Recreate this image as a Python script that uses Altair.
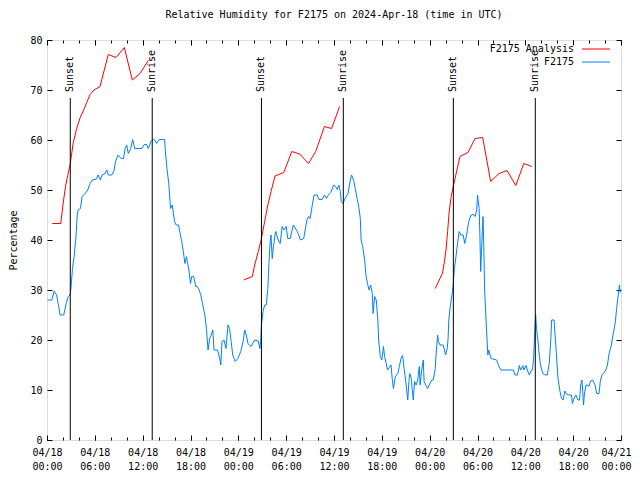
import altair as alt
import pandas as pd

# ---------------- data (hours since 2024-04-18 00:00 UTC) ----------------
blue_h = [0.08, 0.6, 0.9, 1.2, 1.5, 1.63, 2.1, 2.4, 2.67, 2.9, 3.0, 3.2, 3.4, 3.6, 3.8, 3.9, 4.2, 4.4, 4.8, 5.1,
          5.4, 5.7, 6.2, 6.4, 6.7, 6.9, 7.3, 7.5, 7.7, 8.1, 8.4, 8.6, 8.9, 9.3, 9.6, 9.8, 10.0, 10.2, 10.5, 10.75,
          11.0, 11.9, 12.2, 12.5, 12.7, 13.05, 13.25, 13.5, 13.75, 14.05, 14.76, 14.85, 15.05, 15.27, 15.43, 15.5,
          15.7, 15.8, 16.0, 16.2, 16.5, 16.7, 16.9, 17.1, 17.3, 17.5, 17.6, 17.8, 18.0, 18.15, 18.4, 18.65, 18.85,
          19.0, 19.3, 19.5, 19.8, 20.0, 20.2, 20.4, 20.6, 20.8, 20.95, 21.4, 21.7, 21.8, 21.95, 22.2, 22.45, 22.7,
          22.9, 23.1, 23.3, 23.6, 23.95, 24.3, 24.6, 24.8, 25.0, 25.2, 25.6, 26.05, 26.5, 26.7, 26.8, 26.9, 27.1,
          27.3, 27.5, 27.7, 27.85, 28.0, 28.1, 28.25, 28.4, 28.5, 28.6, 28.7, 29.0, 29.25, 29.5, 29.7, 30.0, 30.2,
          30.5, 30.9, 31.4, 31.8, 32.2, 32.6, 32.8, 33.0, 33.25, 33.5, 33.9, 34.1, 34.5, 34.8, 35.05, 35.3, 35.6,
          35.95, 36.2, 36.4, 36.6, 36.8, 36.9, 37.1, 37.4, 37.75, 38.05, 38.2, 38.5, 38.7, 38.9, 39.1, 39.3, 39.4,
          39.6, 39.85, 40.0, 40.2, 40.4, 40.6, 40.8, 40.9, 41.1, 41.3, 41.5, 41.6, 41.8, 42.0, 42.2, 42.35, 42.55,
          42.7, 43.0, 43.15, 43.3, 43.45, 43.7, 44.0, 44.2, 44.4, 44.6, 44.8, 45.0, 45.25, 45.4, 45.5, 45.7, 45.8,
          45.95, 46.1, 46.3, 46.5, 46.7, 46.8, 47.0, 47.2, 47.3, 47.5, 47.75, 47.95, 48.25, 48.45, 48.7, 48.8,
          49.0, 49.1, 49.3, 49.7, 50.0, 50.2, 50.3, 50.4, 50.55, 50.8, 50.95, 51.1, 51.3, 51.5, 51.7, 51.9, 52.2,
          52.4, 52.6, 52.9, 53.2, 53.5, 53.7, 53.9, 54.0, 54.2, 54.3, 54.4, 54.6, 54.7, 54.8, 54.9, 55.1, 55.3,
          55.4, 55.7, 56.4, 56.7, 56.95, 58.5, 58.7, 59.0, 59.25, 59.4, 59.7, 59.8, 60.1, 60.25, 60.5, 60.7, 60.9,
          61.05, 61.2, 61.3, 61.4, 61.55, 61.75, 61.9, 62.2, 62.5, 62.75, 63.0, 63.2, 63.3, 63.6, 63.7, 63.9,
          64.1, 64.35, 64.55, 64.75, 64.95, 65.2, 65.6, 65.8, 65.9, 66.1, 66.35, 66.6, 66.8, 66.95, 67.1, 67.2,
          67.3, 67.4, 67.6, 67.8, 67.95, 68.2, 68.45, 68.75, 68.95, 69.25, 69.4, 69.6, 69.8, 70.1, 70.3, 70.5,
          70.75, 71.0, 71.3, 71.45, 71.6, 71.8, 71.9]
blue_v = [28, 28, 29.8, 29, 26.4, 25, 25, 27.3, 28.7, 29, 30.3, 34.3, 36.7, 40, 45, 46, 46.3, 48.7, 49.3, 50,
          51.3, 52, 52.2, 53, 52, 53, 53.3, 54, 53, 53, 53.8, 55.7, 57, 56.3, 56.3, 58.3, 59, 57.3, 58.3, 60.1,
          58.3, 58.3, 59.1, 59.1, 58.3, 59.7, 60.1, 60, 59.3, 60.1, 60.1, 57.7, 54.3, 51.3, 47.7, 46.3,
          47, 46, 43.7, 43, 43, 41.3, 39.7, 37.7, 35.3, 36.7, 35.7, 34, 31.3, 32.7, 32.7, 30.7, 30.7,
          30.3, 29, 27.3, 25, 22.3, 18, 20.3, 21, 22, 18, 18, 16, 15, 19.7, 20, 18.3, 23,
          22.3, 19.7, 17, 15.7, 16.3, 17.7, 19.7, 22, 21, 19.3, 18.7, 20, 19.8, 18.3, 19.7, 23, 25.7,
          27, 27, 30.3, 35.7, 39.7, 41, 36.3, 38.7, 39.7, 41, 41.7, 40, 39.3, 42.7, 42, 42.7, 40.3,
          40.3, 43, 41.7, 40, 40.3, 44, 44.7, 44.3, 46.7, 49, 49, 48.1, 48.1, 49, 48.3, 49, 49.5,
          51, 50.7, 50.1, 51, 49.7, 47.7, 47.3, 48.3, 49.3, 52, 53, 51.7, 50, 48.3, 46.7, 44.3, 40,
          38.7, 36, 33, 31.3, 30, 31, 29.3, 25.3, 28.7, 28, 24, 20, 16.7, 16, 18.7, 16.7, 15.3,
          14, 14.7, 15, 12.3, 10.3, 12.7, 13.3, 14.7, 16.3, 16.9, 14.3, 11.7, 8, 11.7, 13.3, 12.3, 10.3,
          8, 11.7, 11, 12, 14.7, 11, 14, 16, 11.7, 11, 10.3, 11, 12, 12, 14.3, 17,
          21, 19.7, 19, 19, 17, 18.3, 20, 24, 26.3, 29, 31, 34.3, 36.7, 39.3, 41.7, 41, 41,
          39.3, 40.7, 43.7, 45, 45.1, 44.7, 46, 49, 46.3, 41, 33.7, 41.7, 44.7, 37.7, 29.7, 23, 17,
          18, 16.3, 16, 14.7, 14, 14, 13, 13, 14.9, 14, 14.9, 14, 14.9, 14, 13, 13.8, 14,
          16.7, 22.3, 25, 22.3, 20.3, 17, 15, 13.3, 13, 13, 15.3, 20.3, 24, 24, 21.7, 17,
          12.3, 9.7, 8.3, 8, 9.8, 9.1, 9, 9, 7.3, 8.3, 9, 8, 8, 11, 12, 9.7,
          7, 9, 11, 11, 10.7, 11.8, 12, 11, 9.3, 9.3, 11.7, 13, 13.3, 14, 15, 17.3,
          18.7, 21, 23.7, 26.3, 28.3, 31, 29.5]

red_h = [[0.67, 1.72, 2.05, 2.34, 2.6, 2.89, 3.3, 3.72, 4.14, 4.7, 5.4, 5.9, 6.65, 7.69, 8.66, 9.7, 10.7,
          11.67, 12.7],
         [24.67, 25.75, 26.05, 26.5, 26.9, 27.3, 27.7, 28.1, 28.6, 29.7, 30.3, 30.7, 31.7, 32.8, 33.7, 34.8,
          35.7, 36.7],
         [48.7, 49.2, 49.6, 49.85, 50.05, 50.25, 50.45, 50.7, 51.0, 51.8, 52.8, 53.7, 54.65, 55.65, 56.7,
          57.7, 58.8, 59.8, 60.8]]
red_v = [[43.3, 43.3, 47.6, 50.9, 52.9, 55.0, 59.5, 62.3, 64.4, 66.4, 69.1, 70.0, 70.7, 77.1, 76.5, 78.5, 72.0,
          73.3, 75.9],
         [32.0, 32.7, 35.0, 37.7, 40.3, 43.7, 47.0, 49.7, 52.8, 53.5, 56.0, 57.7, 57.2, 55.3, 57.7, 62.7,
          62.3, 66.7],
         [30.3, 32.0, 33.3, 35.7, 38.0, 41.7, 45.7, 48.7, 51.0, 56.7, 57.5, 60.3, 60.5, 51.7, 53.3,
          53.9, 50.9, 55.3, 54.7]]

event_h = [2.92, 13.2, 26.9, 37.17, 50.97, 61.25]
event_lbl = ["Sunset", "Sunrise", "Sunset", "Sunrise", "Sunset", "Sunrise"]
event_top = 68.4
label_y = 69.6

legend_names = ["F2175 Analysis", "F2175"]
legend_colors = ["#ff0000", "#0080ff"]

major_ticks = list(range(0, 73, 6))
minor_ticks = list(range(0, 73, 2))
y_ticks = list(range(0, 81, 10))

FONT = "DejaVu Sans Mono"

# ---------------- tables ----------------
blue_df = pd.DataFrame({"h": blue_h, "v": blue_v})
red_df = pd.concat([pd.DataFrame({"h": hh, "v": vv, "seg": i}) for i, (hh, vv) in enumerate(zip(red_h, red_v))])
ev_df = pd.DataFrame({"h": event_h, "lbl": event_lbl, "y0": 0.0, "y1": event_top, "ly": label_y})

xscale = alt.Scale(domain=[0, 72], nice=False, zero=False)
yscale = alt.Scale(domain=[0, 80], nice=False, zero=True)

common = dict(grid=False, domain=False, tickColor="black", tickWidth=1, title=None)

x_bottom_major = alt.Axis(orient="bottom", values=major_ticks, tickSize={"expr": "-5"},
                          labelExpr="['04/' + format(18 + floor(datum.value / 24), '02d'), format(datum.value % 24, '02d') + ':00']",
                          labelFont=FONT, labelFontSize=10, labelColor="black", labelAngle=0,
                          labelPadding=12, labelLineHeight=14, labelBaseline="top", labelFlush=False,
                          labelOverlap=False,
                          labelOffset={"condition": {"test": "datum.value >= 72", "value": -5}, "value": 0},
                          **common)
x_bottom_minor = alt.Axis(orient="bottom", values=minor_ticks, tickSize={"expr": "-3"}, labels=False, **common)
x_top_major = alt.Axis(orient="top", values=major_ticks, tickSize={"expr": "-5"}, labels=False, **common)
x_top_minor = alt.Axis(orient="top", values=minor_ticks, tickSize={"expr": "-3"}, labels=False, **common)

y_left = alt.Axis(orient="left", values=y_ticks, tickSize={"expr": "-5"}, labelFont=FONT, labelFontSize=10,
                  labelColor="black", labelPadding=10, grid=False, domain=False, tickColor="black",
                  title="Percentage", titleFont=FONT, titleFontSize=10, titleFontWeight="normal",
                  titleColor="black", titleAngle=270, titleX=-34, titleY=200, titleAlign="center",
                  titleBaseline="middle")
y_right = alt.Axis(orient="right", values=y_ticks, tickSize={"expr": "-5"}, labels=False, **common)

blue = alt.Chart(blue_df).mark_line(color="#0080ff", strokeWidth=1).encode(
    x=alt.X("h:Q", scale=xscale, axis=x_bottom_major),
    y=alt.Y("v:Q", scale=yscale, axis=y_left),
)
red = alt.Chart(red_df).mark_line(color="#ff0000", strokeWidth=1).encode(
    x=alt.X("h:Q", scale=xscale, axis=x_top_major),
    y=alt.Y("v:Q", scale=yscale, axis=y_right),
    detail="seg:N",
)
rules = alt.Chart(ev_df).mark_rule(color="black", strokeWidth=1).encode(
    x=alt.X("h:Q", scale=xscale, axis=x_bottom_minor),
    y=alt.Y("y0:Q", scale=yscale, axis=None),
    y2="y1:Q",
)
texts = alt.Chart(ev_df).mark_text(angle=270, align="left", baseline="middle", font=FONT, fontSize=10,
                                   color="black").encode(
    x=alt.X("h:Q", scale=xscale, axis=x_top_minor),
    y=alt.Y("ly:Q", scale=yscale, axis=None),
    text="lbl:N",
)

legend_layers = []
for i, (name, col) in enumerate(zip(legend_names, legend_colors)):
    ldf = pd.DataFrame({"name": [name]})
    legend_layers.append(alt.Chart(ldf).mark_text(align="right", baseline="middle", font=FONT, fontSize=10,
                                                  color="black").encode(
        x=alt.value(527), y=alt.value(9 + 13 * i), text="name:N"))
    legend_layers.append(alt.Chart(ldf).mark_rule(color=col, strokeWidth=1).encode(
        x=alt.value(535), x2=alt.value(563), y=alt.value(9 + 13 * i)))

chart = alt.layer(blue, red, rules, texts, *legend_layers).resolve_axis(
    x="independent", y="independent"
).properties(
    width=574, height=400,
    autosize=alt.AutoSizeParams(type="none"),
    padding={"left": 39, "top": 32, "right": 11, "bottom": 40},
    title=alt.TitleParams("Relative Humidity for F2175 on 2024-Apr-18 (time in UTC)", font=FONT,
                          fontSize=10, fontWeight="normal", color="black", offset=15, anchor="middle"),
).configure_view(stroke="black", strokeWidth=1).configure(background="white")

chart.save("out.html", embed_options={"renderer": "svg", "actions": False})
